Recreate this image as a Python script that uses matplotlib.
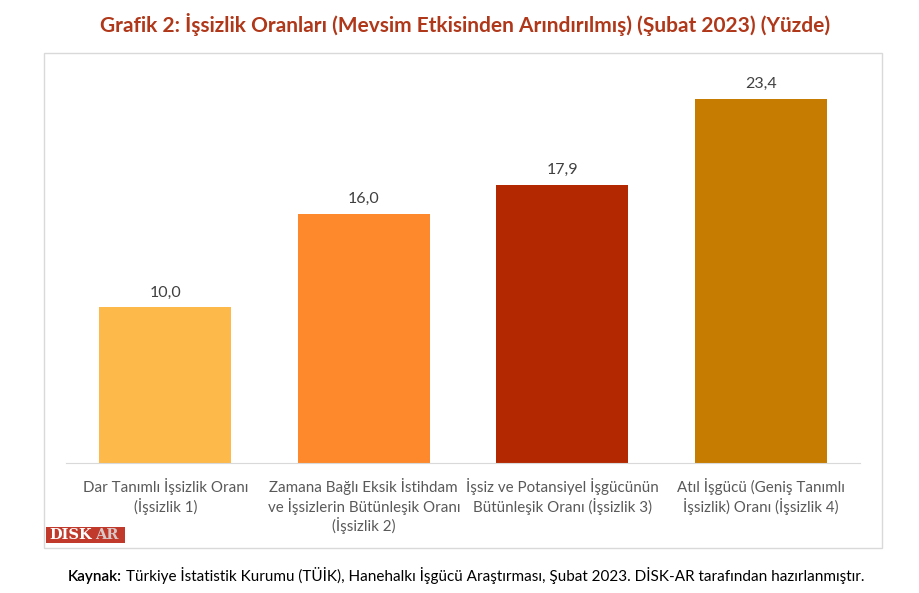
import matplotlib
matplotlib.use("Agg")
import matplotlib.pyplot as plt
from matplotlib.patches import Rectangle

plt.rcParams['font.family'] = ['Lato', 'DejaVu Sans']

categories = ["Dar Tanımlı İşsizlik Oranı\n(İşsizlik 1)",
              "Zamana Bağlı Eksik İstihdam\nve İşsizlerin Bütünleşik Oranı\n(İşsizlik 2)",
              "İşsiz ve Potansiyel İşgücünün\nBütünleşik Oranı (İşsizlik 3)",
              "Atıl İşgücü (Geniş Tanımlı\nİşsizlik) Oranı (İşsizlik 4)"]
values = [10.0, 16.0, 17.9, 23.4]
colors = ["#FDB94A", "#FD892C", "#B32800", "#C67C00"]

fig = plt.figure(figsize=(9.2, 5.93), dpi=100)
W, H = 920, 593

# frame around the chart
fig.patches.append(Rectangle((44 / W, 1 - 548 / H), (882 - 44) / W, (548 - 53) / H,
                             transform=fig.transFigure, fill=False,
                             edgecolor="#D9D9D9", linewidth=1.0))

ax = fig.add_axes([66 / W, 1 - 463 / H, (860 - 66) / W, (463 - 70) / H])
x = range(len(values))
bars = ax.bar(x, values, width=0.667, color=colors)
ax.set_xlim(-0.5, 3.5)
ax.set_ylim(0, 23.4 * 393 / 364)
for b, v in zip(bars, values):
    ax.text(b.get_x() + b.get_width() / 2, v + 0.5, f"{v:.1f}".replace(".", ","),
            ha="center", va="bottom", fontsize=11.5, color="#404040")

ax.set_xticks(list(x))
ax.set_xticklabels(categories, fontsize=10.9, color="#595959", linespacing=1.18)
ax.tick_params(axis="x", length=0, pad=11)
ax.set_yticks([])
for s in ["top", "left", "right"]:
    ax.spines[s].set_visible(False)
ax.spines["bottom"].set_color("#D9D9D9")

fig.text(0.505, 1 - 25 / H, "Grafik 2: İşsizlik Oranları (Mevsim Etkisinden Arındırılmış) (Şubat 2023) (Yüzde)",
         ha="center", va="center", fontsize=15, fontweight="bold", color="#B0381A")

# logo
fig.patches.append(Rectangle((46 / W, 1 - 543 / H), 79 / W, 16 / H,
                             transform=fig.transFigure, facecolor="#C0392B",
                             edgecolor="none"))
fig.text(49 / W, 1 - 535 / H, "DİSK", fontsize=10.5, fontweight="bold", color="white",
         va="center", ha="left", family="DejaVu Serif")
fig.text(95 / W, 1 - 535 / H, "AR", fontsize=10.5, fontweight="bold", color="#D8C8C8",
         va="center", ha="left", family="DejaVu Serif")

# source note
t1 = fig.text(68 / W, 1 - 581 / H, "Kaynak:", fontsize=11, fontweight="semibold",
              color="black", va="baseline", ha="left")
fig.canvas.draw()
bb = t1.get_window_extent()
fig.text((bb.x1 + 4) / W, 1 - 581 / H,
         "Türkiye İstatistik Kurumu (TÜİK), Hanehalkı İşgücü Araştırması, Şubat 2023. DİSK-AR tarafından hazırlanmıştır.",
         fontsize=11, color="black", va="baseline", ha="left")

fig.savefig("out.png", dpi=100, facecolor="white")
